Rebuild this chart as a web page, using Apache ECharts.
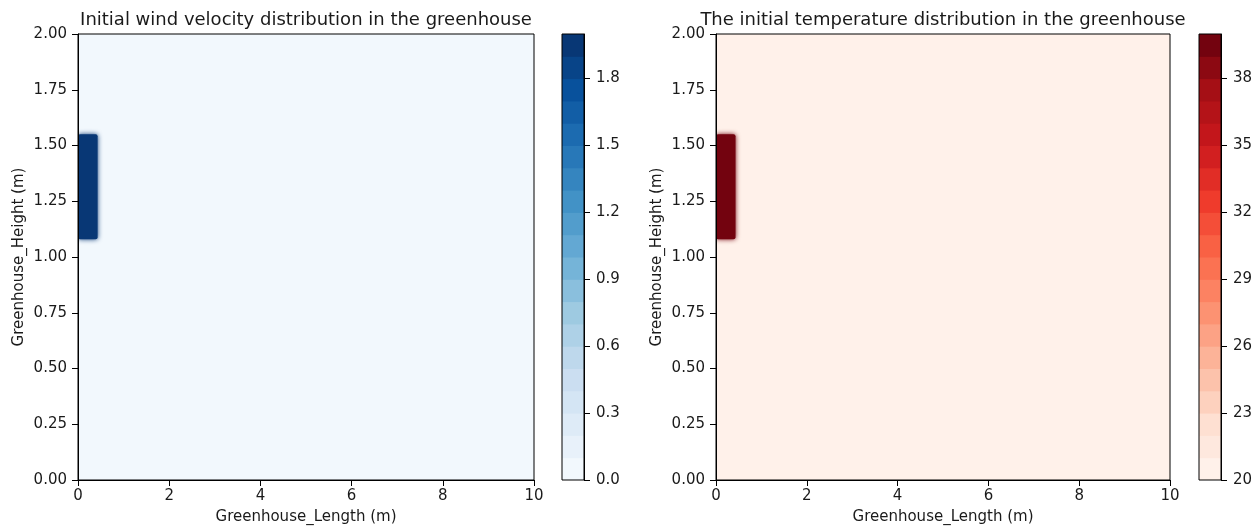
<!DOCTYPE html>
<html>
<head>
<meta charset="utf-8">
<script src="https://cdn.jsdelivr.net/npm/echarts@6/dist/echarts.min.js"></script>
<style>
html,body{margin:0;padding:0;background:#fff;}
#chart{width:1258px;height:531px;}
</style>
</head>
<body>
<div id="chart"></div>
<script>
// ---------- data ----------
const titles = ['Initial wind velocity distribution in the greenhouse', 'The initial temperature distribution in the greenhouse'];
const xName = 'Greenhouse_Length (m)';
const yName = 'Greenhouse_Height (m)';
const domainX = [0, 10];
const domainY = [0, 2];
const inletX = [0, 0.43];
const inletY = [1.08, 1.55];
const windField = [0, 2.0];     // [background, inlet]
const tempField = [20, 40];     // [background, inlet]
const windLevels = [0, 0.1, 0.2, 0.3, 0.4, 0.5, 0.6, 0.7, 0.8, 0.9, 1.0, 1.1, 1.2, 1.3, 1.4, 1.5, 1.6, 1.7, 1.8, 1.9, 2.0];
const tempLevels = [20, 21, 22, 23, 24, 25, 26, 27, 28, 29, 30, 31, 32, 33, 34, 35, 36, 37, 38, 39, 40];
const windTicks = [0, 0.3, 0.6, 0.9, 1.2, 1.5, 1.8];
const tempTicks = [20, 23, 26, 29, 32, 35, 38];

// ColorBrewer anchors used by matplotlib 'Blues' and 'Reds'
const bluesAnchors = ['#f7fbff', '#deebf7', '#c6dbef', '#9ecae1', '#6baed6', '#4292c6', '#2171b5', '#08519c', '#08306b'];
const redsAnchors = ['#fff5f0', '#fee0d2', '#fcbba1', '#fc9272', '#fb6a4a', '#ef3b2c', '#cb181d', '#a50f15', '#67000d'];

function hexRgb(h){ return [parseInt(h.substr(1,2),16), parseInt(h.substr(3,2),16), parseInt(h.substr(5,2),16)]; }
function cmap(anchors, t){
  t = Math.max(0, Math.min(1, t));
  const n = anchors.length - 1;
  const f = t * n;
  const i = Math.min(n - 1, Math.floor(f));
  const u = f - i;
  const a = hexRgb(anchors[i]), b = hexRgb(anchors[i+1]);
  const c = a.map((v, k) => Math.round(v + (b[k] - v) * u));
  return 'rgb(' + c.join(',') + ')';
}
function levelColor(anchors, levels, v){
  const n = levels.length - 1;
  let idx = 0;
  for (let i = 0; i < n; i++) { if (v >= levels[i]) idx = i; }
  return cmap(anchors, (idx + 0.5) / n);
}

const FONT = 'DejaVu Sans';
const TXT = '#1a1a1a';

function fieldData(vals){
  return [
    [domainX[0], domainX[1], domainY[0], domainY[1], vals[0], 0],
    [inletX[0], inletX[1], inletY[0], inletY[1], vals[1], 1]
  ];
}
function bandData(levels){
  const out = [];
  for (let i = 0; i < levels.length - 1; i++) out.push([0, 1, levels[i], levels[i+1], i]);
  return out;
}

function fieldRender(anchors, levels){
  return function(params, api){
    const p0 = api.coord([api.value(0), api.value(2)]);
    const p1 = api.coord([api.value(1), api.value(3)]);
    const col = levelColor(anchors, levels, api.value(4));
    const isInlet = api.value(5) === 1;
    return {
      type: 'rect',
      shape: { x: Math.min(p0[0], p1[0]), y: Math.min(p0[1], p1[1]), width: Math.abs(p1[0]-p0[0]), height: Math.abs(p1[1]-p0[1]), r: isInlet ? 2 : 0 },
      style: isInlet ? { fill: col, shadowBlur: 5, shadowColor: col } : { fill: col }
    };
  };
}
function bandRender(anchors, levels){
  const n = levels.length - 1;
  return function(params, api){
    const p0 = api.coord([api.value(0), api.value(2)]);
    const p1 = api.coord([api.value(1), api.value(3)]);
    const col = cmap(anchors, (api.value(4) + 0.5) / n);
    return {
      type: 'rect',
      shape: { x: Math.min(p0[0], p1[0]), y: Math.min(p0[1], p1[1]) - 0.5, width: Math.abs(p1[0]-p0[0]), height: Math.abs(p1[1]-p0[1]) + 1 },
      style: { fill: col }
    };
  };
}

const grids = [
  { left: 78, top: 34, width: 456, height: 446 },
  { left: 562, top: 34, width: 22, height: 446 },
  { left: 716, top: 34, width: 454, height: 446 },
  { left: 1199, top: 34, width: 22, height: 446 }
].map(g => Object.assign({ show: true, borderColor: '#000', borderWidth: 1, backgroundColor: 'transparent', z: 5 }, g));

const axisCommon = {
  axisLine: { show: true, onZero: false, lineStyle: { color: '#000', width: 1 } },
  axisTick: { show: true, inside: false, length: 6, lineStyle: { color: '#000', width: 1 } },
  splitLine: { show: false },
  axisLabel: { color: TXT, fontFamily: FONT, fontSize: 15 },
  nameTextStyle: { color: TXT, fontFamily: FONT, fontSize: 15 },
  z: 10
};
function mainX(gi){
  return Object.assign({}, axisCommon, {
    type: 'value', gridIndex: gi, min: domainX[0], max: domainX[1], interval: 2,
    name: xName, nameLocation: 'middle', nameGap: 30,
    axisLabel: Object.assign({}, axisCommon.axisLabel, { margin: 9 })
  });
}
function mainY(gi){
  return Object.assign({}, axisCommon, {
    type: 'value', gridIndex: gi, min: domainY[0], max: domainY[1], interval: 0.25,
    name: yName, nameLocation: 'middle', nameGap: 51,
    axisLabel: Object.assign({}, axisCommon.axisLabel, { margin: 11, formatter: v => v.toFixed(2) })
  });
}
function cbX(gi){
  return { type: 'value', gridIndex: gi, min: 0, max: 1, show: false };
}
function cbY(gi, levels, ticks, dec){
  return Object.assign({}, axisCommon, {
    type: 'value', gridIndex: gi, position: 'right', min: levels[0], max: levels[levels.length-1],
    axisTick: Object.assign({}, axisCommon.axisTick, { customValues: ticks }),
    axisLabel: Object.assign({}, axisCommon.axisLabel, { margin: 12, customValues: ticks, formatter: v => Number(v).toFixed(dec) })
  });
}

const option = {
  animation: false,
  backgroundColor: '#fff',
  textStyle: { fontFamily: FONT },
  title: [
    { text: titles[0], left: 301, top: 6, textAlign: 'center', textStyle: { fontFamily: FONT, fontSize: 18, fontWeight: 'normal', color: TXT } },
    { text: titles[1], left: 938, top: 6, textAlign: 'center', textStyle: { fontFamily: FONT, fontSize: 18, fontWeight: 'normal', color: TXT } }
  ],
  grid: grids,
  xAxis: [mainX(0), cbX(1), mainX(2), cbX(3)],
  yAxis: [mainY(0), cbY(1, windLevels, windTicks, 1), mainY(2), cbY(3, tempLevels, tempTicks, 0)],
  series: [
    { type: 'custom', xAxisIndex: 0, yAxisIndex: 0, clip: true, renderItem: fieldRender(bluesAnchors, windLevels), encode: { x: [0, 1], y: [2, 3] }, data: fieldData(windField), silent: true },
    { type: 'custom', xAxisIndex: 1, yAxisIndex: 1, clip: true, renderItem: bandRender(bluesAnchors, windLevels), encode: { x: [0, 1], y: [2, 3] }, data: bandData(windLevels), silent: true },
    { type: 'custom', xAxisIndex: 2, yAxisIndex: 2, clip: true, renderItem: fieldRender(redsAnchors, tempLevels), encode: { x: [0, 1], y: [2, 3] }, data: fieldData(tempField), silent: true },
    { type: 'custom', xAxisIndex: 3, yAxisIndex: 3, clip: true, renderItem: bandRender(redsAnchors, tempLevels), encode: { x: [0, 1], y: [2, 3] }, data: bandData(tempLevels), silent: true }
  ]
};

const chart = echarts.init(document.getElementById('chart'), null, { renderer: 'canvas' });
chart.setOption(option);
</script>
</body>
</html>
